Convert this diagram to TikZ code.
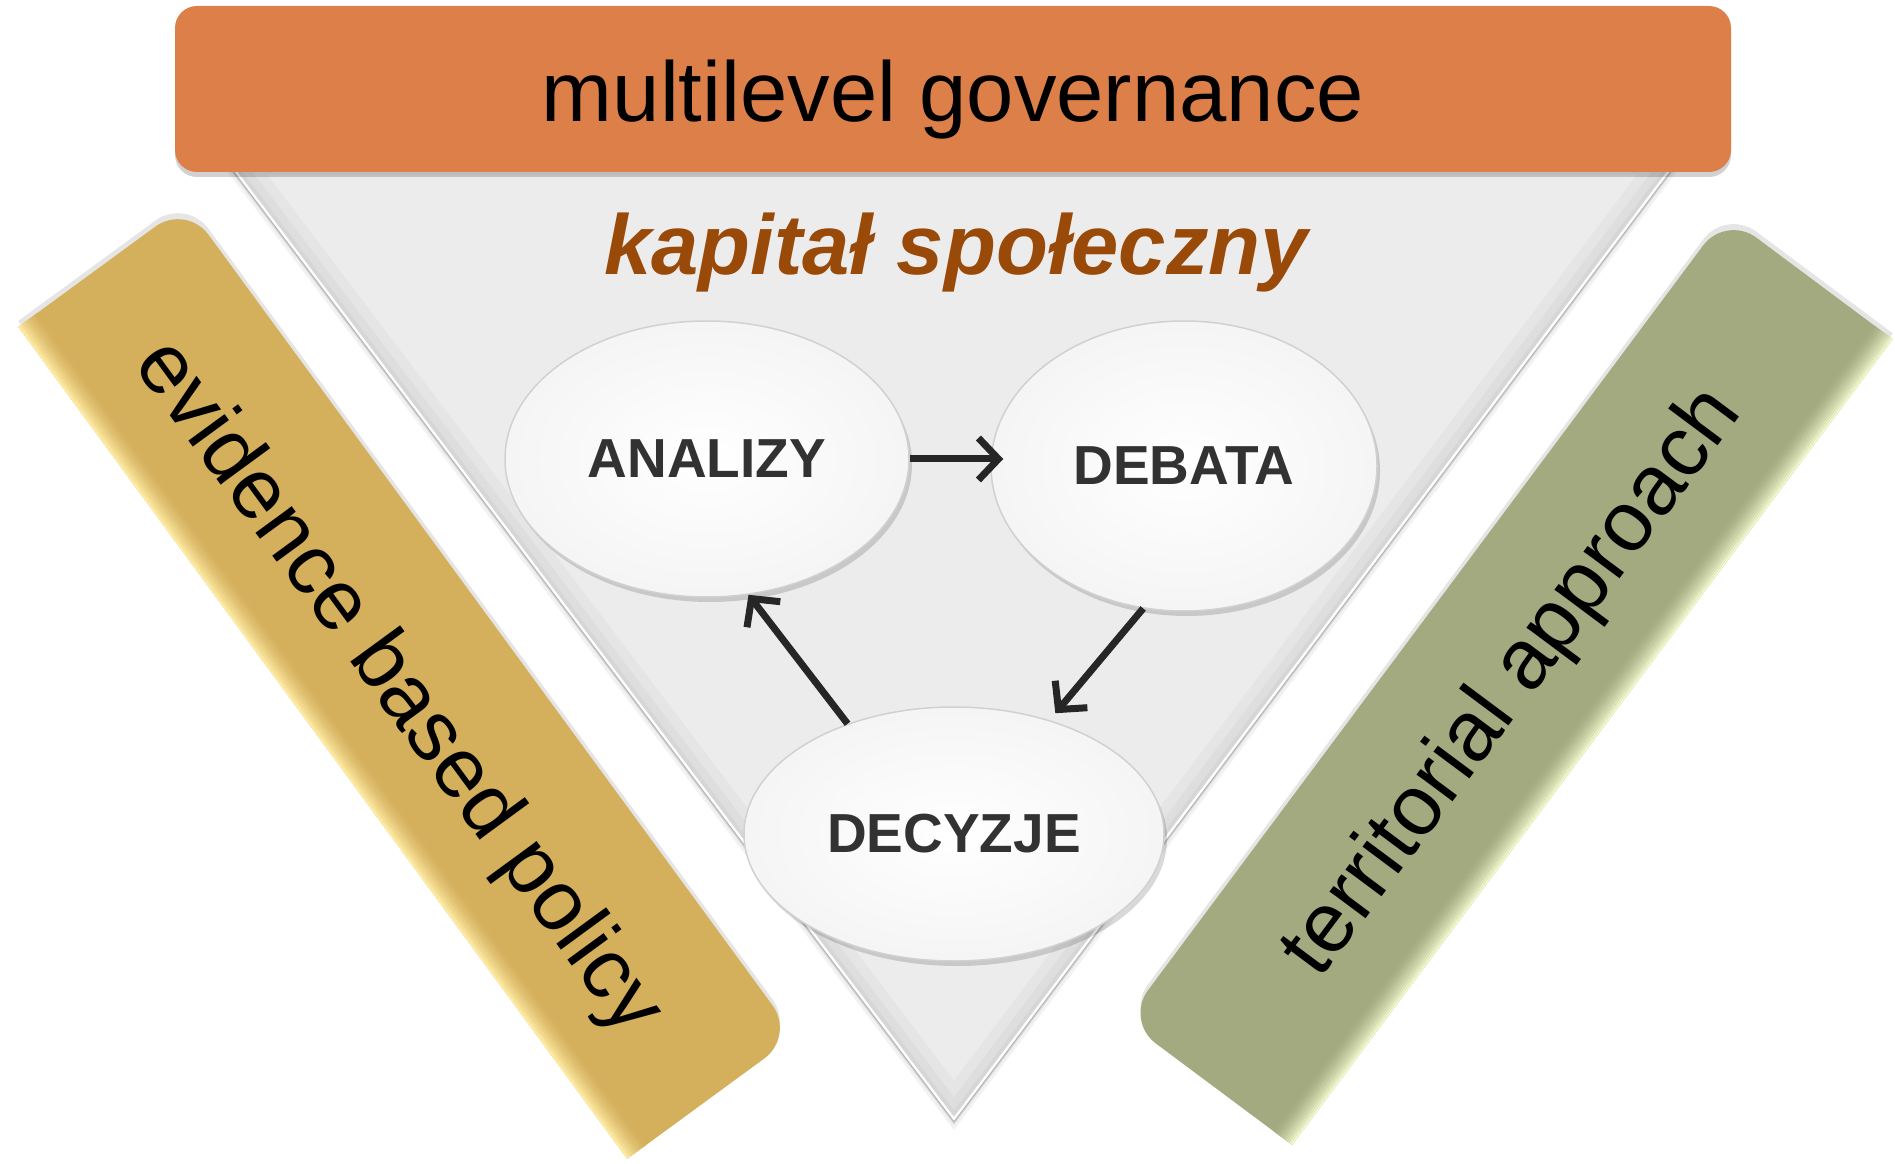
\documentclass[tikz,border=0pt]{standalone}
\usepackage{fontspec}
\setmainfont{Liberation Sans}
\usetikzlibrary{arrows.meta,shapes.geometric,shadows}
\definecolor{orangebar}{HTML}{DD7F49}
\definecolor{goldbar}{HTML}{D4AF5C}
\definecolor{goldlight}{HTML}{FFEDA6}
\definecolor{olivebar}{HTML}{A3AA80}
\definecolor{olivelight}{HTML}{F2F8CC}
\definecolor{trigray}{HTML}{ECECEC}
\definecolor{triedgeA}{HTML}{E5E5E5}
\definecolor{triedgeB}{HTML}{DEDEDE}
\definecolor{triedgeC}{HTML}{D6D6D6}
\definecolor{brownt}{HTML}{9A4A08}
\definecolor{ink}{HTML}{323232}
\definecolor{arrowc}{HTML}{262626}
\begin{document}
\begin{tikzpicture}[x=1pt,y=1pt,
  bubble/.style={ellipse, draw=black!18, line width=1.5pt, inner color=white, outer color=black!4,
    text=ink, font=\bfseries\fontsize{55}{60}\selectfont,
    drop shadow={shadow xshift=3pt, shadow yshift=-5pt, opacity=.15, fill=black}},
  arr/.style={draw=arrowc, line width=7pt, -{Straight Barb[length=20pt, width=42pt]}},
  bartext/.style={font=\fontsize{85}{100}\selectfont, text=black, inner sep=0pt},
  topbar/.style={fill=orangebar, rounded corners=22pt, inner sep=0pt,
    font=\fontsize{85}{100}\selectfont, text=black,
    drop shadow={shadow xshift=0pt, shadow yshift=-5pt, opacity=.18, fill=black}}
]
\useasboundingbox (0,0) rectangle (1895,1163);
\fill[white] (0,0) rectangle (1895,1163);

% ---------- central triangle ----------
\coordinate (tl) at (217,1013);
\coordinate (tr) at (1687,1013);
\coordinate (tb) at (954,41);
\fill[black,opacity=.05] ([yshift=-8]tl) -- ([yshift=-8]tr) -- ([yshift=-8]tb) -- cycle;
\fill[black,opacity=.08] ([yshift=-3]tl) -- ([yshift=-3]tr) -- ([yshift=-3]tb) -- cycle;
\begin{scope}
  \clip (tl) -- (tr) -- (tb) -- cycle;
  \fill[trigray] (tl) -- (tr) -- (tb) -- cycle;
  \draw[line width=50pt, triedgeA] (tl) -- (tr) -- (tb) -- cycle;
  \draw[line width=30pt, triedgeB] (tl) -- (tr) -- (tb) -- cycle;
  \draw[line width=14pt, triedgeC] (tl) -- (tr) -- (tb) -- cycle;
  \draw[line width=6pt, white] (tl) -- (tr) -- (tb) -- cycle;
\end{scope}
\draw[line width=1.2pt, black!28] (tl) -- (tr) -- (tb) -- cycle;

% ---------- top bar ----------
\node[topbar, minimum width=1556pt, minimum height=166pt, text height=70pt, text depth=4pt]
  (mlg) at (953,1074) {multilevel governance};

% ---------- left bar ----------
\begin{scope}[shift={(406.6,487.5)}, rotate=-53.8]
  \fill[black, opacity=.10] (-515.5,-104) -- (-515.5,66) arc[start angle=180,end angle=90,radius=38]
    -- (477.5,104) arc[start angle=90,end angle=0,radius=38] -- (515.5,-104) -- cycle;
\end{scope}
\begin{scope}[shift={(406.6,481.5)}, rotate=-53.8]
  \fill[goldbar] (-515.5,-104) -- (-515.5,66) arc[start angle=180,end angle=90,radius=38]
    -- (477.5,104) arc[start angle=90,end angle=0,radius=38] -- (515.5,-104) -- cycle;
  \foreach \i in {0,...,11}{
    \pgfmathsetmacro{\mix}{100*(1-\i/12)^1.6}
    \fill[goldlight!\mix!goldbar] (-515.5,-104+2*\i) rectangle (515.5,-102+2*\i);
  }
  \node[bartext, rotate=-53.8] (ebp) at (0,-12) {evidence based policy};
\end{scope}

% ---------- right bar ----------
\begin{scope}[shift={(1509,489)}, rotate=53.3]
  \fill[black, opacity=.10] (-502.5,-104) -- (-502.5,66) arc[start angle=180,end angle=90,radius=38]
    -- (464.5,104) arc[start angle=90,end angle=0,radius=38] -- (502.5,-104) -- cycle;
\end{scope}
\begin{scope}[shift={(1509,483)}, rotate=53.3]
  \fill[olivebar] (-502.5,-104) -- (-502.5,66) arc[start angle=180,end angle=90,radius=38]
    -- (464.5,104) arc[start angle=90,end angle=0,radius=38] -- (502.5,-104) -- cycle;
  \foreach \i in {0,...,11}{
    \pgfmathsetmacro{\mix}{100*(1-\i/12)^1.6}
    \fill[olivelight!\mix!olivebar] (-502.5,-104+2*\i) rectangle (502.5,-102+2*\i);
  }
  \node[bartext, rotate=53.3] (ta) at (0,-6) {territorial approach};
\end{scope}

% ---------- title in triangle ----------
\node[font=\bfseries\itshape\fontsize{85}{100}\selectfont, text=brownt, anchor=base, inner sep=0pt]
  (ks) at (956,888) {kapitał społeczny};

% ---------- cycle ----------
\node[bubble, minimum width=404pt, minimum height=276pt] (A) at (707,704) {ANALIZY};
\node[bubble, minimum width=386pt, minimum height=290pt] (B) at (1184,697) {DEBATA};
\node[bubble, minimum width=420pt, minimum height=254pt] (C) at (954,329) {DECYZJE};

\draw[arr, shorten >=-13pt] (A.east) -- (A.east -| B.west);
\draw[arr, shorten >=9pt] (B.254) -- (C.50);
\draw[arr] (C.134) -- (A.287);
\end{tikzpicture}
\end{document}
